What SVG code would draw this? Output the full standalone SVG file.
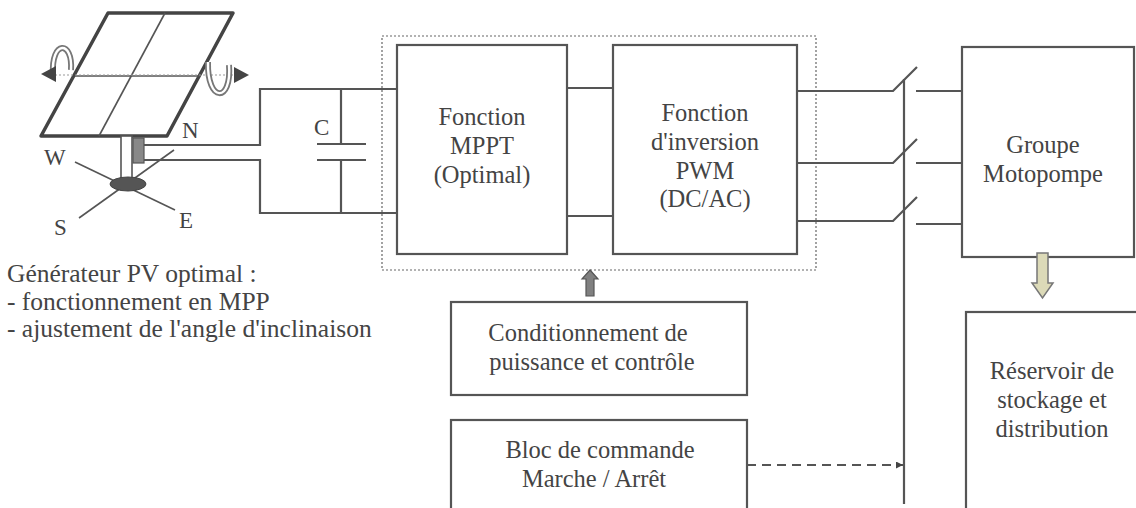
<svg xmlns="http://www.w3.org/2000/svg" width="1136" height="508" viewBox="0 0 1136 508">
  <style>
    .box { fill: #ffffff; stroke: #555555; stroke-width: 2.2; }
    .wire { fill: none; stroke: #555555; stroke-width: 2.2; }
    .thin { fill: none; stroke: #555555; stroke-width: 1.6; }
    .lbl { font-family: 'Liberation Serif', 'Times New Roman', serif; font-size: 24.5px; fill: #444444; }
    .pt { font-size: 23px; }
    .cap { font-size: 25.5px; }
    .mid { text-anchor: middle; }
  </style>
  <defs>
    <marker id="dashHead" viewBox="0 0 10 10" refX="10" refY="5" markerWidth="7" markerHeight="7" orient="auto" markerUnits="userSpaceOnUse">
      <path d="M0,0 L10,5 L0,10 z" fill="#444444"/>
    </marker>
  </defs>

  <!-- solar tracker: panel, pole, compass -->
  <g id="pv-generator">
    <polygon points="108,13 233,13 167,136 41,136" fill="#ffffff" stroke="#444444" stroke-width="3.5" stroke-linejoin="round"/>
    <line x1="75" y1="76" x2="200" y2="76" stroke="#555555" stroke-width="1.6"/>
    <line x1="165" y1="13" x2="99" y2="136" stroke="#555555" stroke-width="1.6"/>
    <!-- tilt axis and rotation arrows -->
    <line x1="55" y1="75" x2="236" y2="75" stroke="#999999" stroke-width="1" stroke-dasharray="2,2"/>
    <path d="M53,74 C51,40 73,40 71,70" fill="none" stroke="#777777" stroke-width="6"/>
    <path d="M53,74 C51,40 73,40 71,70" fill="none" stroke="#ffffff" stroke-width="2.4"/>
    <polygon points="41,74 56,66 56,82" fill="#444444"/>
    <path d="M208,62 C207,103 232,103 229,65" fill="none" stroke="#777777" stroke-width="6"/>
    <path d="M208,62 C207,103 232,103 229,65" fill="none" stroke="#ffffff" stroke-width="2.4"/>
    <polygon points="249,75 234,67 234,83" fill="#444444"/>
    <!-- pole -->
    <rect x="121" y="136" width="11" height="46" fill="#ffffff" stroke="#555555" stroke-width="1.6"/>
    <rect x="133" y="138" width="11" height="25" fill="#888888" stroke="#555555" stroke-width="1.2"/>
    <!-- compass -->
    <line x1="75" y1="162" x2="175" y2="210" class="thin"/>
    <line x1="174" y1="150" x2="79" y2="218" class="thin"/>
    <ellipse cx="128" cy="184" rx="18" ry="7" fill="#555555" stroke="#444444" stroke-width="1"/>
    <text class="lbl pt" x="182" y="138">N</text>
    <text class="lbl pt" x="44" y="165">W</text>
    <text class="lbl pt" x="54" y="235">S</text>
    <text class="lbl pt" x="179" y="228">E</text>
    <text class="lbl cap" x="7" y="282">Générateur PV optimal :</text>
    <text class="lbl cap" x="7" y="310">- fonctionnement en MPP</text>
    <text class="lbl cap" x="7" y="337">- ajustement de l'angle d'inclinaison</text>
  </g>

  <!-- DC bus capacitor -->
  <g id="capacitor">
    <line x1="317" y1="144" x2="366" y2="144" class="wire"/>
    <line x1="317" y1="160" x2="366" y2="160" class="wire"/>
    <line x1="341" y1="89" x2="341" y2="144" class="wire"/>
    <line x1="341" y1="160" x2="341" y2="213" class="wire"/>
    <text class="lbl pt" x="314" y="135">C</text>
  </g>

  <!-- power conditioning stage (dotted outline) -->
  <g id="converter">
    <rect x="382" y="36" width="434" height="234" fill="none" stroke="#666666" stroke-width="1.2" stroke-dasharray="2,2"/>
  </g>

  <g id="mppt">
    <rect class="box" x="397" y="45" width="170" height="209"/>
    <text class="lbl mid" x="482" y="125">Fonction</text>
    <text class="lbl mid" x="482" y="154">MPPT</text>
    <text class="lbl mid" x="482" y="183">(Optimal)</text>
  </g>

  <g id="inverter">
    <rect class="box" x="613" y="45" width="184" height="209"/>
    <text class="lbl mid" x="705" y="121">Fonction</text>
    <text class="lbl mid" x="705" y="150">d'inversion</text>
    <text class="lbl mid" x="705" y="179">PWM</text>
    <text class="lbl mid" x="705" y="207">(DC/AC)</text>
  </g>

  <g id="motor-pump">
    <rect class="box" x="962" y="47" width="172" height="210"/>
    <text class="lbl mid" x="1043" y="153">Groupe</text>
    <text class="lbl mid" x="1043" y="182">Motopompe</text>
  </g>

  <g id="tank">
    <rect class="box" x="966" y="312" width="172" height="210"/>
    <text class="lbl mid" x="1052" y="379">Réservoir de</text>
    <text class="lbl mid" x="1052" y="408">stockage et</text>
    <text class="lbl mid" x="1052" y="437">distribution</text>
  </g>

  <g id="control">
    <rect class="box" x="451" y="302" width="296" height="93"/>
    <text class="lbl mid" x="588" y="341">Conditionnement de</text>
    <text class="lbl mid" x="592" y="370">puissance et contrôle</text>
  </g>

  <g id="on-off">
    <rect class="box" x="451" y="420" width="296" height="100"/>
    <text class="lbl mid" x="600" y="458">Bloc de commande</text>
    <text class="lbl mid" x="594" y="487">Marche / Arrêt</text>
  </g>

  <!-- connectors -->
  <g id="connectors">
    <!-- PV to DC bus -->
    <polyline class="wire" points="144,145 260,145 260,89 397,89"/>
    <polyline class="wire" points="144,160 260,160 260,213 397,213"/>
    <!-- MPPT to inverter -->
    <line class="wire" x1="567" y1="88" x2="613" y2="88"/>
    <line class="wire" x1="567" y1="216" x2="613" y2="216"/>
    <!-- three-phase output with switches -->
    <polyline class="wire" points="797,91 893,91 917,67"/>
    <polyline class="wire" points="797,163 893,163 917,139"/>
    <polyline class="wire" points="797,221 893,221 917,197"/>
    <line class="wire" x1="916" y1="91" x2="962" y2="91"/>
    <line class="wire" x1="916" y1="163" x2="962" y2="163"/>
    <line class="wire" x1="916" y1="224" x2="962" y2="224"/>
    <!-- switch linkage -->
    <line class="wire" x1="904" y1="79" x2="904" y2="504"/>
    <!-- on/off command -->
    <line x1="747" y1="465" x2="903" y2="465" stroke="#555555" stroke-width="2" stroke-dasharray="9,6" marker-end="url(#dashHead)"/>
    <!-- control to converter -->
    <polygon points="590,270 598,279 594,279 594,296 586,296 586,279 582,279" fill="#808080" stroke="#555555" stroke-width="1.2"/>
    <!-- pump to tank -->
    <polygon points="1037,253 1048,253 1048,283 1053,283 1042.5,298 1032,283 1037,283" fill="#dcdab8" stroke="#777777" stroke-width="1.5"/>
  </g>
</svg>
